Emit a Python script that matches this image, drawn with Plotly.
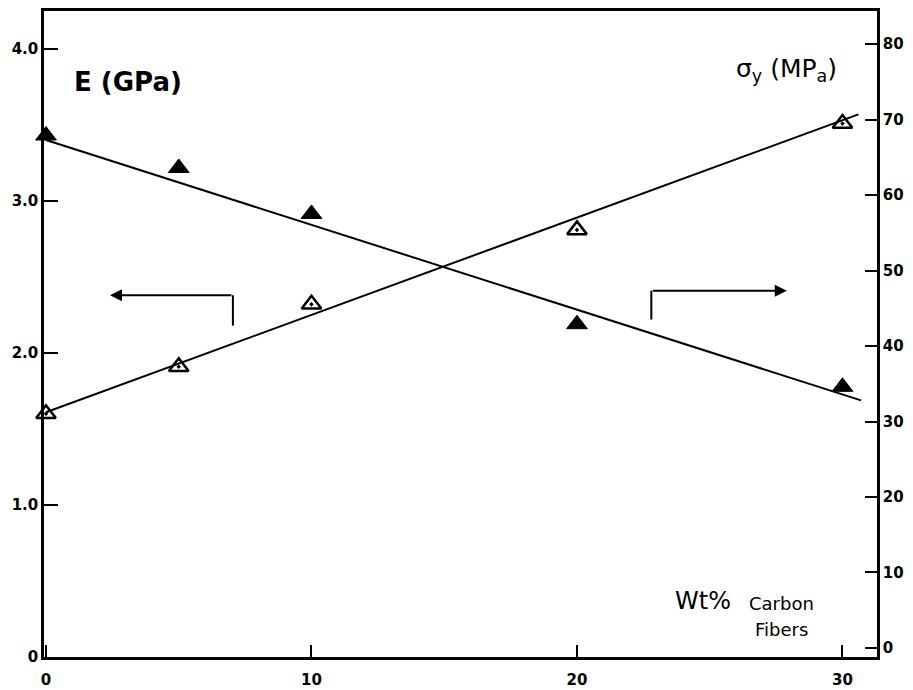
import plotly.graph_objects as go

# Data
wt_pct = [0, 5, 10, 20, 30]
E_gpa = [1.60, 1.91, 2.32, 2.81, 3.51]          # open triangles, left axis
sigma_y = [67.9, 63.6, 57.5, 42.9, 34.6]        # filled triangles, right axis

fit_x = [0, 30.6]
fit_E = [1.61, 3.57]
fit_x2 = [0, 30.7]
fit_sigma = [67.3, 32.8]

x_ticks = [0, 10, 20, 30]
x_ticktext = ["0", "10", "20", "30"]
y_ticks = [0, 1, 2, 3, 4]
y_ticktext = ["0", "1.0", "2.0", "3.0", "4.0"]
y2_ticks = [0, 10, 20, 30, 40, 50, 60, 70, 80]
y2_ticktext = ["0", "10", "20", "30", "40", "50", "60", "70", "80"]

FONT = "DejaVu Sans"
BLACK = "#000000"

fig = go.Figure()
fig.add_trace(go.Scatter(x=fit_x, y=fit_E, mode="lines",
                         line=dict(color=BLACK, width=2), yaxis="y",
                         showlegend=False, hoverinfo="skip"))
fig.add_trace(go.Scatter(x=fit_x2, y=fit_sigma, mode="lines",
                         line=dict(color=BLACK, width=2), yaxis="y2",
                         showlegend=False, hoverinfo="skip"))
fig.add_trace(go.Scatter(x=wt_pct, y=E_gpa, mode="markers", yaxis="y",
                         marker=dict(symbol="triangle-up-open-dot", size=17,
                                     color=BLACK, line=dict(color=BLACK, width=2.5)),
                         showlegend=False, cliponaxis=False))
fig.add_trace(go.Scatter(x=wt_pct, y=sigma_y, mode="markers", yaxis="y2",
                         marker=dict(symbol="triangle-up", size=18, color=BLACK,
                                     line=dict(color=BLACK, width=1)),
                         showlegend=False, cliponaxis=False))

axis_common = dict(showline=True, linecolor=BLACK, linewidth=2.5,
                   ticks="inside", tickcolor=BLACK, tickwidth=2,
                   showgrid=False, zeroline=False,
                   tickfont=dict(family=FONT, size=15, color=BLACK))

fig.update_layout(
    width=905, height=682,
    margin=dict(l=36, r=36, t=3, b=33, autoexpand=False),
    paper_bgcolor="white", plot_bgcolor="white",
    xaxis=dict(range=[-0.075, 31.3], tickmode="array", tickvals=x_ticks,
               ticktext=["<b>%s</b>" % t for t in x_ticktext], ticklen=12,
               ticklabelstandoff=7, mirror=True, automargin=False,
               **axis_common),
    yaxis=dict(range=[0, 4.25], tickmode="array", tickvals=y_ticks,
               ticktext=["<b>%s</b>" % t for t in y_ticktext], ticklen=14,
               automargin=False, **axis_common),
    yaxis2=dict(range=[-1.2, 84.4], tickmode="array", tickvals=y2_ticks,
                ticktext=["<b>%s</b>" % t for t in y2_ticktext], ticklen=12,
                overlaying="y", side="right", automargin=False,
                **axis_common),
)

# arrows pointing to axes
fig.add_annotation(x=2.41, y=2.38, ax=7.04, ay=2.38, xref="x", yref="y",
                   axref="x", ayref="y", text="", showarrow=True,
                   arrowhead=2, arrowsize=1.2, arrowwidth=2, arrowcolor=BLACK)
fig.add_shape(type="line", x0=7.04, x1=7.04, y0=2.38, y1=2.18,
              xref="x", yref="y", line=dict(color=BLACK, width=2))
fig.add_annotation(x=27.9, y=2.41, ax=22.8, ay=2.41, xref="x", yref="y",
                   axref="x", ayref="y", text="", showarrow=True,
                   arrowhead=2, arrowsize=1.2, arrowwidth=2, arrowcolor=BLACK)
fig.add_shape(type="line", x0=22.8, x1=22.8, y0=2.41, y1=2.22,
              xref="x", yref="y", line=dict(color=BLACK, width=2))

# labels
fig.add_annotation(x=0.98, y=3.78, xref="x", yref="y", text="<b>E (GPa)</b>",
                   showarrow=False, xanchor="left", yanchor="middle",
                   font=dict(family=FONT, size=26, color=BLACK))
fig.add_annotation(x=25.9, y=3.86, xref="x", yref="y",
                   text="σ<sub>y</sub> (MP<sub>a</sub>)",
                   showarrow=False, xanchor="left", yanchor="middle",
                   font=dict(family=FONT, size=25, color=BLACK))
fig.add_annotation(x=23.6, y=0.37, xref="x", yref="y", text="Wt%",
                   showarrow=False, xanchor="left", yanchor="middle",
                   font=dict(family=FONT, size=24, color=BLACK))
fig.add_annotation(x=27.7, y=0.355, xref="x", yref="y", text="Carbon",
                   showarrow=False, xanchor="center", yanchor="middle",
                   font=dict(family=FONT, size=18, color=BLACK))
fig.add_annotation(x=27.7, y=0.18, xref="x", yref="y", text="Fibers",
                   showarrow=False, xanchor="center", yanchor="middle",
                   font=dict(family=FONT, size=18, color=BLACK))

fig.write_html("out.html")
